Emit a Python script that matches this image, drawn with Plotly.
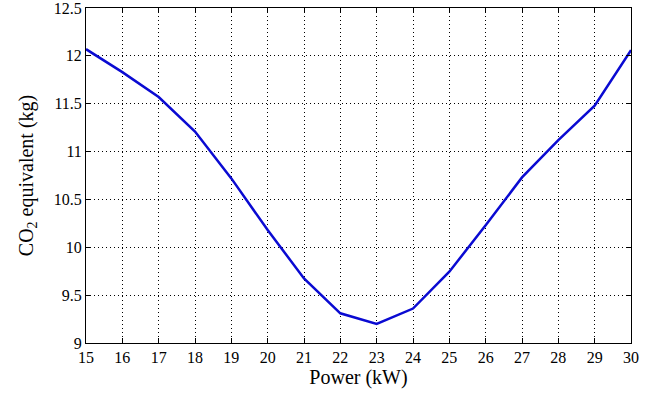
import plotly.graph_objects as go

power_kw = [15, 16, 17, 18, 19, 20, 21, 22, 23, 24, 25, 26, 27, 28, 29, 30]
co2_kg = [12.07, 11.83, 11.57, 11.21, 10.72, 10.18, 9.675, 9.31, 9.20, 9.36, 9.745, 10.23, 10.73, 11.12, 11.48, 12.06]

x_ticks = list(range(15, 31))
y_ticks = [9, 9.5, 10, 10.5, 11, 11.5, 12, 12.5]
y_tick_text = ["9", "9.5", "10", "10.5", "11", "11.5", "12", "12.5"]

font_family = "Liberation Serif, Times New Roman, serif"

fig = go.Figure()
fig.add_trace(go.Scatter(
    x=power_kw, y=co2_kg, mode="lines",
    line=dict(color="rgb(10,10,210)", width=2.5),
    showlegend=False,
))

axis_common = dict(
    showline=True, linecolor="black", linewidth=1, mirror="ticks",
    ticks="inside", ticklen=5, tickcolor="black",
    showgrid=True, gridcolor="black", griddash="1px,3px", gridwidth=1,
    zeroline=False, automargin=False, ticklabeloverflow="allow",
    tickfont=dict(family=font_family, size=16, color="black"),
)

fig.update_xaxes(
    range=[15, 30.0001], tickvals=x_ticks, ticktext=[str(v) for v in x_ticks],
    title=dict(text="Power (kW)", font=dict(family=font_family, size=20, color="black"), standoff=3),
    **axis_common,
)
fig.update_yaxes(
    range=[8.9999, 12.5001], tickvals=y_ticks, ticktext=y_tick_text,
    title=dict(text="CO<sub>2</sub> equivalent (kg)", font=dict(family=font_family, size=20, color="black"), standoff=14),
    **axis_common,
)

fig.update_layout(
    width=657, height=398,
    margin=dict(l=86, r=26, t=8, b=55),
    paper_bgcolor="white", plot_bgcolor="white",
    font=dict(family=font_family, size=16, color="black"),
)

fig.write_html(
    "out.html",
    config={"displayModeBar": False},
    post_script="document.body.style.margin='0';document.body.style.overflow='hidden';",
)
